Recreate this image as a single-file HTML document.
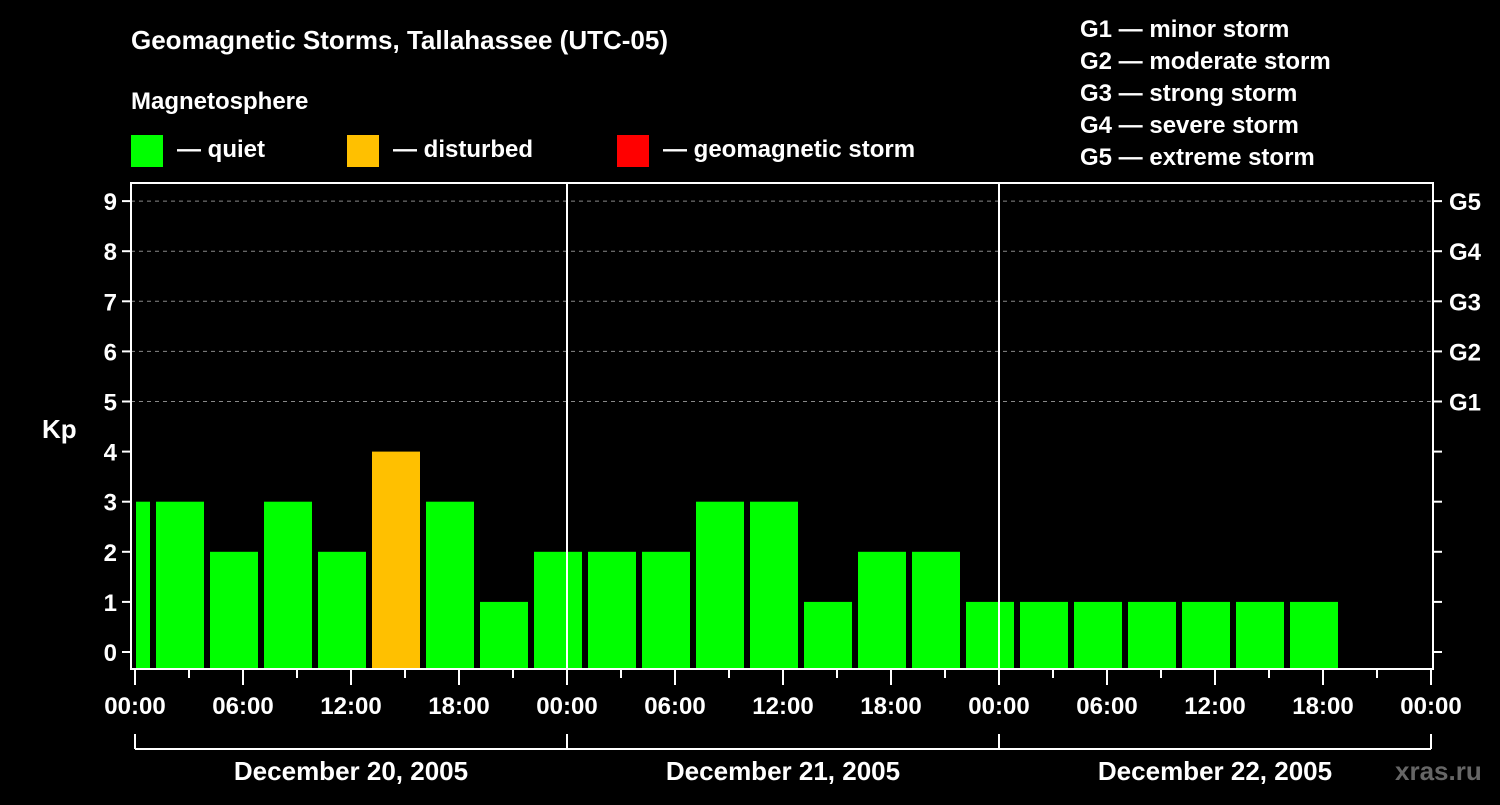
<!DOCTYPE html>
<html><head><meta charset="utf-8"><style>
body{margin:0;background:#000;width:1500px;height:800px;overflow:hidden}
svg text{font-family:"Liberation Sans",sans-serif;font-weight:bold;fill:#fff}
</style></head><body>
<svg id="c" width="1500" height="800">
<text x="131" y="49" font-size="26">Geomagnetic Storms, Tallahassee (UTC-05)</text>
<text x="131" y="109" font-size="24">Magnetosphere</text>
<g><rect x="131" y="135" width="32" height="32" fill="#00ff00"/><text x="177" y="157" font-size="24">— quiet</text></g>
<g><rect x="347" y="135" width="32" height="32" fill="#ffc000"/><text x="393" y="157" font-size="24">— disturbed</text></g>
<g><rect x="617" y="135" width="32" height="32" fill="#ff0000"/><text x="663" y="157" font-size="24">— geomagnetic storm</text></g>
<g font-size="24">
<text x="1080" y="37">G1 — minor storm</text><text x="1080" y="69">G2 — moderate storm</text><text x="1080" y="101">G3 — strong storm</text><text x="1080" y="133">G4 — severe storm</text><text x="1080" y="165">G5 — extreme storm</text></g>
<text x="42" y="438" font-size="26">Kp</text>
<text x="1395" y="780" font-size="26" fill="#888" style="fill:#666">xras.ru</text>
<g id="marks"></g>
</svg>
<script>
const firstPartialValue = [3];
const kpValues = [3,2,3,2,4,3,1,2, 2,2,3,3,1,2,2,1, 1,1,1,1,1,1];
const dayLabels = ["December 20, 2005","December 21, 2005","December 22, 2005"];
const timeLabels = ["00:00","06:00","12:00","18:00"];
const gLabels = ["G1","G2","G3","G4","G5"];
const NS="http://www.w3.org/2000/svg";
const g=document.getElementById('marks');
const L=131,R=1433,T=183,B=669,X0=135,DAY=432;
const xh=h=>X0+h*DAY/24;
const yv=v=>652-v*50.1;
function mk(t,a,txt){const e=document.createElementNS(NS,t);for(const k in a)e.setAttribute(k,a[k]);if(txt!==undefined)e.textContent=txt;g.appendChild(e);return e;}
function col(v){return v>=5?'#ff0000':v>=4?'#ffc000':'#00ff00';}
// grid
for(let v=5;v<=9;v++){const e=mk('line',{x1:L,x2:R,y1:yv(v),y2:yv(v),stroke:'#888','stroke-width':1,'stroke-dasharray':'4,4'});

}
// bars
{const v=firstPartialValue[0];const e=mk('rect',{x:xh(0)+1,y:yv(v),width:xh(1)-xh(0)-4,height:B-yv(v),fill:col(v)});

}
kpValues.forEach((v,i)=>{const s=1+3*i;const e=mk('rect',{x:xh(s)+3,y:yv(v),width:xh(s+3)-xh(s)-6,height:B-yv(v),fill:col(v)});

});
// day separators
for(let d=1;d<3;d++){const e=mk('line',{x1:xh(24*d),x2:xh(24*d),y1:T,y2:B,stroke:'#fff','stroke-width':2});

}
// frame
{const e=mk('rect',{x:L,y:T,width:R-L,height:B-T,fill:'none',stroke:'#fff','stroke-width':2});

}
// y ticks
for(let v=0;v<=9;v++){mk('line',{x1:L-9,x2:L,y1:yv(v),y2:yv(v),stroke:'#fff','stroke-width':2});
mk('line',{x1:R,x2:R+9,y1:yv(v),y2:yv(v),stroke:'#fff','stroke-width':2});
const t=mk('text',{x:L-14,y:yv(v)+9,'font-size':24,'text-anchor':'end'},String(v));

}
gLabels.forEach((s,i)=>{const t=mk('text',{x:1449,y:yv(5+i)+9,'font-size':24},s);

});
// x ticks
for(let h=0;h<=72;h+=3){const major=h%6===0;mk('line',{x1:xh(h),x2:xh(h),y1:B,y2:B+(major?16:9),stroke:'#fff','stroke-width':2});
if(major){const t=mk('text',{x:xh(h),y:714,'font-size':24,'text-anchor':'middle'},timeLabels[(h/6)%4]);

}}
// date brackets
mk('line',{x1:xh(0),x2:xh(72),y1:749,y2:749,stroke:'#fff','stroke-width':2});
for(let d=0;d<=3;d++)mk('line',{x1:xh(24*d),x2:xh(24*d),y1:734,y2:749,stroke:'#fff','stroke-width':2});
dayLabels.forEach((s,d)=>{const t=mk('text',{x:xh(24*d+12),y:780,'font-size':26,'text-anchor':'middle'},s);

});
</script>
</body></html>
